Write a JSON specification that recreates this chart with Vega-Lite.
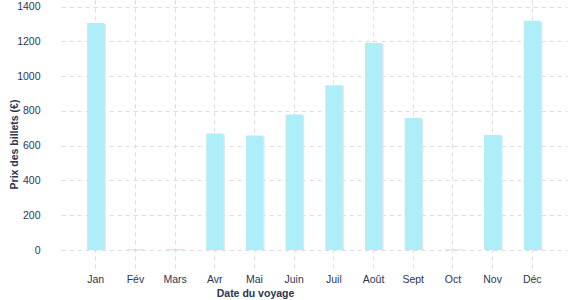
{
  "$schema": "https://vega.github.io/schema/vega-lite/v6.json",
  "autosize": "none",
  "width": 506,
  "height": 270,
  "padding": {"left": 61, "top": 0, "right": 10, "bottom": 30},
  "config": {
    "view": {"stroke": null},
    "font": "Liberation Sans",
    "axis": {
      "labelColor": "#2b3650",
      "titleColor": "#2b3650",
      "labelFont": "Liberation Sans",
      "titleFont": "Liberation Sans",
      "labelFontSize": 10.5,
      "titleFontSize": 10.5,
      "titleFontWeight": "bold",
      "gridColor": "#dcdcdc",
      "gridDash": [4, 4],
      "gridWidth": 1,
      "domain": false
    }
  },
  "data": {
    "values": [
      {"mois": "Jan", "prix": 1306},
      {"mois": "Fév", "prix": 5},
      {"mois": "Mars", "prix": 5},
      {"mois": "Avr", "prix": 671},
      {"mois": "Mai", "prix": 659},
      {"mois": "Juin", "prix": 780},
      {"mois": "Juil", "prix": 948},
      {"mois": "Août", "prix": 1191},
      {"mois": "Sept", "prix": 760},
      {"mois": "Oct", "prix": 4},
      {"mois": "Nov", "prix": 662},
      {"mois": "Déc", "prix": 1319}
    ]
  },
  "encoding": {
    "x": {
      "field": "mois",
      "type": "nominal",
      "sort": null,
      "scale": {"paddingInner": 0.57, "paddingOuter": 0.66},
      "axis": {
        "title": "Date du voyage",
        "labelAngle": 0,
        "grid": true,
        "ticks": false,
        "labelPadding": 4,
        "titleX": 194,
        "titleY": 23,
        "titleBaseline": "middle",
        "titleAnchor": null
      }
    },
    "y": {
      "field": "prix",
      "type": "quantitative",
      "scale": {"domain": [-115, 1438.5], "nice": false, "zero": false},
      "axis": {
        "title": "Prix des billets (€)",
        "values": [0, 200, 400, 600, 800, 1000, 1200, 1400],
        "format": "d",
        "ticks": false,
        "labelPadding": 21,
        "titleX": -47,
        "titleY": 144,
        "titleBaseline": "middle",
        "titleAnchor": null
      }
    },
    "y2": {"datum": 0}
  },
  "layer": [
    {"mark": {"type": "bar", "color": "#e2e2e2", "xOffset": 1.5, "yOffset": 1}},
    {"mark": {"type": "bar", "color": "#aeeef8"}}
  ]
}
